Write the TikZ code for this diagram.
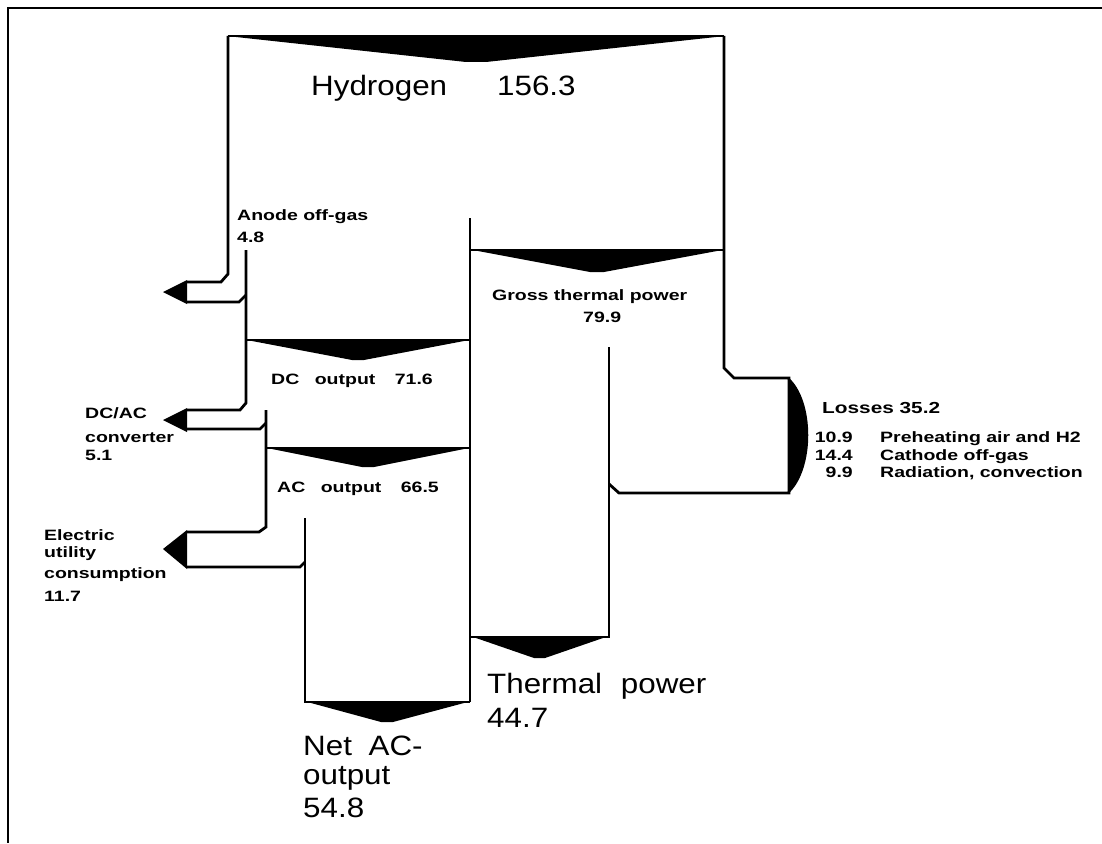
\documentclass[tikz,border=0pt]{standalone}
\usepackage{fontspec}
\newfontfamily\bigf[FakeStretch=1.12]{Liberation Sans}
\newfontfamily\smf[FakeStretch=1.3]{Liberation Sans}
\begin{document}
\begin{tikzpicture}[x=1pt,y=-1pt,
  flow/.style={line width=2.8pt, line join=miter},
  wedge/.style={fill=black, draw=none},
  big/.style={font=\bigf\fontsize{28}{30}\selectfont, inner sep=0pt, anchor=base west},
  sm/.style={font=\smf\bfseries\fontsize{15}{18}\selectfont, inner sep=0pt, anchor=base west},
  smr/.style={sm, anchor=base east}]
\useasboundingbox (0,0) rectangle (1102,843);
% frame
\draw[line width=2.8pt] (1102,8) -- (8,8) -- (8,843);
% key corners
\coordinate (H1) at (228,36);
\coordinate (H2) at (724,36);
\coordinate (C1) at (470,218);
\coordinate (C2) at (470,702);
% hydrogen inflow
\draw[flow] (H1) -- (H2);
\fill[wedge] (236,37) -- (466,62) -- (486,62) -- (716,37) -- cycle;
% anode off-gas branch
\draw[flow] (H1) -- (228,274) -- (221,282) -- (187,282);
\fill[wedge] (187,280) -- (163,292) -- (187,304) -- cycle;
\draw[flow] (187,302) -- (239,302) -- (246,295);
% DC output / DC-AC converter branch
\draw[flow] (246,250) -- (246,403) -- (240,410) -- (187,410);
\fill[wedge] (187,408) -- (163,420) -- (187,432) -- cycle;
\draw[flow] (187,429) -- (260,429) -- (266,423);
\draw[flow] (246,340) -- (C1 |- 0,340);
\fill[wedge] (252,341) -- (352,360) -- (364,360) -- (464,341) -- cycle;
% AC output / utility branch
\draw[flow] (266,410) -- (266,527) -- (259,532) -- (187,532);
\fill[wedge] (187,530) -- (163,549) -- (187,569) -- cycle;
\draw[flow] (187,567) -- (300,567) -- (305,562);
\draw[flow] (266,448) -- (C1 |- 0,448);
\fill[wedge] (272,449) -- (362,467) -- (374,467) -- (464,449) -- cycle;
% net AC output
\draw[flow] (305,518) -- (305,702) -- (C2);
\draw[flow] (C1) -- (C2);
\fill[wedge] (311,703) -- (381,722) -- (393,722) -- (464,703) -- cycle;
% gross thermal power
\draw[flow] (470,250) -- (724,250);
\fill[wedge] (478,251) -- (590,272) -- (604,272) -- (717,251) -- cycle;
% losses branch
\draw[flow] (H2) -- (724,368) -- (734,378) -- (789,378) -- (789,493) -- (619,493) -- (609,484);
\fill[wedge] (788,377) .. controls (815,400) and (815,470) .. (788,494) -- cycle;
% thermal power
\draw[flow] (609,347) -- (609,637) -- (470,637);
\fill[wedge] (476,638) -- (534,658) -- (545,658) -- (603,638) -- cycle;
% labels
\node[big] (hyd) at (311,95) {Hydrogen\hspace{50pt}156.3};
\node[sm] (ano1) at (237,220) {Anode off-gas};
\node[sm] (ano2) at (237,242) {4.8};
\node[sm] (gtp1) at (492,300) {Gross thermal power};
\node[sm] (gtp2) at (583,322) {79.9};
\node[sm] (dco) at (271,384) {DC\hspace{10pt} output\hspace{14pt} 71.6};
\node[sm] (aco) at (277,492) {AC\hspace{10pt} output\hspace{14pt} 66.5};
\node[sm] (cv1) at (85,418) {DC/AC};
\node[sm] (cv2) at (85,442) {converter};
\node[sm] (cv3) at (85,460) {5.1};
\node[sm] (ut1) at (44,540) {Electric};
\node[sm] (ut2) at (44,557) {utility};
\node[sm] (ut3) at (44,578) {consumption};
\node[sm] (ut4) at (44,601) {11.7};
\node[sm,font=\smf\bfseries\fontsize{16}{18}\selectfont] (los) at (822,413) {Losses 35.2};
\node[smr] (ln1) at (853,442) {10.9};
\node[sm] (lt1) at (880,442) {Preheating air and H2};
\node[smr] (ln2) at (853,460) {14.4};
\node[sm] (lt2) at (880,460) {Cathode off-gas};
\node[smr] (ln3) at (853,477) {9.9};
\node[sm] (lt3) at (880,477) {Radiation, convection};
\node[big] (th1) at (487,693) {Thermal\hspace{10pt} power};
\node[big] (th2) at (487,727) {44.7};
\node[big] (net1) at (303,755) {Net\hspace{8pt} AC-};
\node[big] (net2) at (303,784) {output};
\node[big] (net3) at (303,817) {54.8};
\end{tikzpicture}
\end{document}
